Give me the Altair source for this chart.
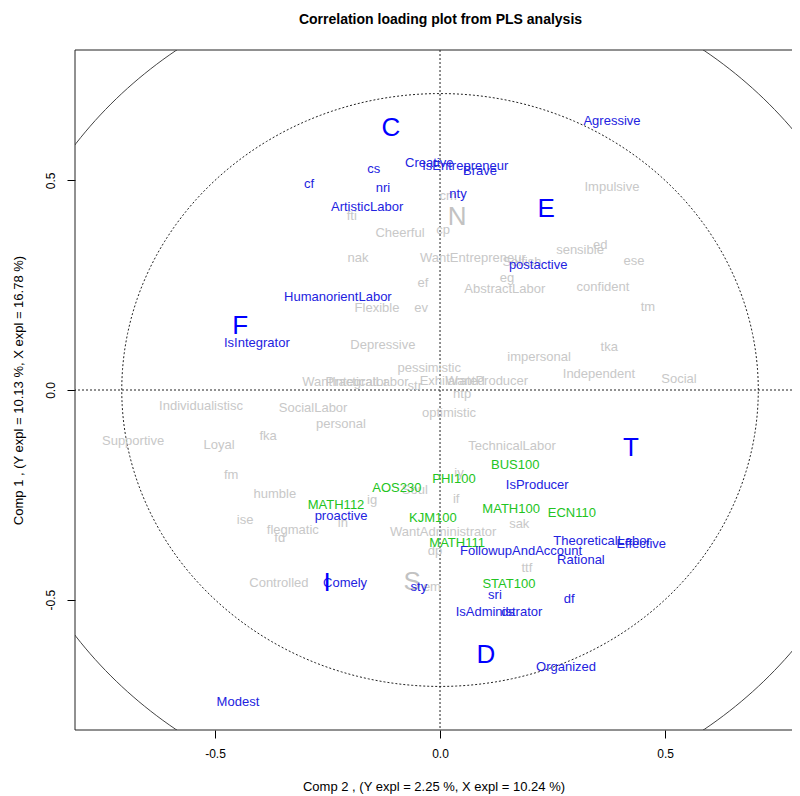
import altair as alt
import pandas as pd
import numpy as np

# ---------------- data ----------------
gray_labels = ["fti", "Cheerful", "cp", "cm", "nak", "WantEntrepreneur", "Selfish", "eg", "ef",
               "AbstractLabor", "Flexible", "ev", "Impulsive", "sensible", "ed", "ese", "confident",
               "tm", "Depressive", "impersonal", "tka", "pessimistic", "Independent", "Social",
               "WantIntegrator", "PracticalLabor", "str", "Exhilarated", "WantProducer", "ntp",
               "optimistic", "Individualistisc", "SocialLabor", "personal", "fka", "Supportive",
               "Loyal", "TechnicalLabor", "fm", "iy", "humble", "Soul", "ig", "if", "ise", "in",
               "sak", "flegmatic", "fd", "WantAdministrator", "dp", "ttf", "Controlled", "em"]
gray_x = [-0.196, -0.089, 0.007, 0.018, -0.182, 0.073, 0.182, 0.149, -0.038,
          0.144, -0.140, -0.042, 0.382, 0.311, 0.356, 0.431, 0.362,
          0.462, -0.127, 0.220, 0.376, -0.024, 0.353, 0.531,
          -0.211, -0.162, -0.056, 0.027, 0.104, 0.049,
          0.020, -0.531, -0.282, -0.220, -0.382, -0.682,
          -0.491, 0.160, -0.464, 0.042, -0.367, -0.056, -0.151, 0.036, -0.433, -0.216,
          0.176, -0.327, -0.356, 0.007, -0.011, 0.193, -0.358, -0.018]
gray_y = [0.415, 0.375, 0.382, 0.463, 0.315, 0.315, 0.305, 0.267, 0.255,
          0.241, 0.196, 0.196, 0.484, 0.334, 0.346, 0.308, 0.246,
          0.198, 0.107, 0.079, 0.103, 0.053, 0.038, 0.026,
          0.019, 0.019, 0.010, 0.021, 0.021, -0.010,
          -0.055, -0.038, -0.043, -0.081, -0.110, -0.122,
          -0.131, -0.134, -0.203, -0.198, -0.248, -0.239, -0.263, -0.260, -0.310, -0.317,
          -0.320, -0.334, -0.353, -0.339, -0.384, -0.425, -0.461, -0.470]

gray_big_labels = ["N", "S"]
gray_big_x = [0.038, -0.062]
gray_big_y = [0.413, -0.458]

green_labels = ["BUS100", "PHI100", "AOS230", "MATH112", "MATH100", "ECN110", "KJM100",
                "MATH111", "STAT100"]
green_x = [0.167, 0.031, -0.096, -0.231, 0.158, 0.293, -0.016, 0.038, 0.153]
green_y = [-0.179, -0.212, -0.234, -0.274, -0.284, -0.294, -0.305, -0.365, -0.463]

blue_labels = ["Agressive", "cs", "Creative", "IsEntrepreneur", "Brave", "cf", "nri", "nty",
               "ArtisticLabor", "postactive", "HumanorientLabor", "IsIntegrator", "IsProducer",
               "proactive", "FollowupAndAccount", "TheoreticalLabor", "Effective", "Rational",
               "Comely", "sty", "sri", "df", "IsAdministrator", "ds", "Organized", "Modest"]
blue_x = [0.382, -0.147, -0.024, 0.056, 0.089, -0.291, -0.127, 0.040,
          -0.162, 0.218, -0.227, -0.407, 0.216,
          -0.220, 0.180, 0.360, 0.447, 0.313,
          -0.211, -0.047, 0.122, 0.287, 0.131, 0.151, 0.280, -0.449]
blue_y = [0.642, 0.527, 0.542, 0.535, 0.523, 0.492, 0.482, 0.468,
          0.437, 0.298, 0.222, 0.112, -0.227,
          -0.301, -0.384, -0.360, -0.368, -0.406,
          -0.461, -0.470, -0.489, -0.499, -0.530, -0.530, -0.661, -0.745]

blue_big_labels = ["C", "E", "F", "T", "I", "D"]
blue_big_x = [-0.109, 0.236, -0.444, 0.424, -0.251, 0.102]
blue_big_y = [0.625, 0.432, 0.153, -0.138, -0.461, -0.632]

tick_values = [-0.5, 0.0, 0.5]
circle_radii = [1.0, float(np.sqrt(0.5))]
x_lim = [-0.811, 0.782]
y_lim = [-0.811, 0.811]

# ---------------- tables ----------------
def table(labels, xs, ys):
    return pd.DataFrame({"label": labels, "x": xs, "y": ys})

t = np.linspace(0, 2 * np.pi, 361)
outer_df = pd.DataFrame({"x": circle_radii[0] * np.cos(t), "y": circle_radii[0] * np.sin(t), "i": range(361)})
inner_df = pd.DataFrame({"x": circle_radii[1] * np.cos(t), "y": circle_radii[1] * np.sin(t), "i": range(361)})
zero_df = pd.DataFrame({"x": [0.0], "y": [0.0]})
frame_h_df = pd.DataFrame({"y": y_lim})
frame_v_df = pd.DataFrame({"x": [x_lim[0]]})

FONT = "Liberation Sans"
label_expr = "datum.value < 0 ? '-' + format(-datum.value, '.1f') : format(datum.value, '.1f')"

xscale = alt.Scale(domain=x_lim, nice=False, zero=False)
yscale = alt.Scale(domain=y_lim, nice=False, zero=False)

x_axis = alt.Axis(values=tick_values, labelExpr=label_expr, grid=False, domain=False,
                  tickSize=8, tickColor="#000", labelPadding=10, labelFontSize=12,
                  title="Comp 2 , (Y expl =  2.25 %, X expl =  10.24 %)",
                  titlePadding=21, titleFontSize=13, titleFontWeight="normal")
y_axis = alt.Axis(values=tick_values, labelExpr=label_expr, grid=False, domain=False,
                  tickSize=8, tickColor="#000", labelPadding=9.5, labelFontSize=12,
                  labelAngle=270, labelAlign="center", labelBaseline="bottom",
                  title="Comp 1 , (Y expl = 10.13 %, X expl = 16.78 %)",
                  titlePadding=19, titleFontSize=13, titleFontWeight="normal")

X = alt.X("x:Q", scale=xscale, axis=x_axis)
Y = alt.Y("y:Q", scale=yscale, axis=y_axis)

outer = alt.Chart(outer_df).mark_line(clip=True, color="#444", strokeWidth=1).encode(
    x=X, y=Y, order="i:Q")
inner = alt.Chart(inner_df).mark_line(clip=True, color="#222", strokeWidth=1,
                                      strokeDash=[2, 2]).encode(x=X, y=Y, order="i:Q")
vline = alt.Chart(zero_df).mark_rule(color="#222", strokeWidth=1, strokeDash=[2, 2]).encode(x=X)
hline = alt.Chart(zero_df).mark_rule(color="#222", strokeWidth=1, strokeDash=[2, 2]).encode(y=Y)
frame_h = alt.Chart(frame_h_df).mark_rule(color="#222", strokeWidth=1).encode(y=Y)
frame_v = alt.Chart(frame_v_df).mark_rule(color="#222", strokeWidth=1).encode(x=X)


def text_layer(df, color, size):
    return alt.Chart(df).mark_text(font=FONT, fontSize=size, color=color, align="center",
                                   baseline="middle").encode(x=X, y=Y, text="label:N")


layers = [
    outer, inner, vline, hline, frame_h, frame_v,
    text_layer(table(gray_big_labels, gray_big_x, gray_big_y), "#c2c2c2", 26),
    text_layer(table(gray_labels, gray_x, gray_y), "#c8c8c8", 13),
    text_layer(table(green_labels, green_x, green_y), "#22c422", 13),
    text_layer(table(blue_labels, blue_x, blue_y), "#2222e0", 13),
    text_layer(table(blue_big_labels, blue_big_x, blue_big_y), "#0000ff", 26),
]

chart = alt.layer(*layers).properties(
    width=717, height=680,
    autosize=alt.AutoSizeParams(type="none"),
    padding={"left": 67, "top": 42, "right": 0, "bottom": 70},
    title=alt.TitleParams(text="Correlation loading plot from PLS analysis", font=FONT,
                          fontSize=14, fontWeight="bold", anchor="middle", offset=9, dx=7,
                          frame="group", baseline="bottom", color="#000"),
    background="white",
).configure_axis(
    labelFont=FONT, titleFont=FONT, labelColor="#000", titleColor="#000"
).configure_view(strokeWidth=0)

chart.save("out.html", embed_options={"renderer": "svg", "actions": False})
